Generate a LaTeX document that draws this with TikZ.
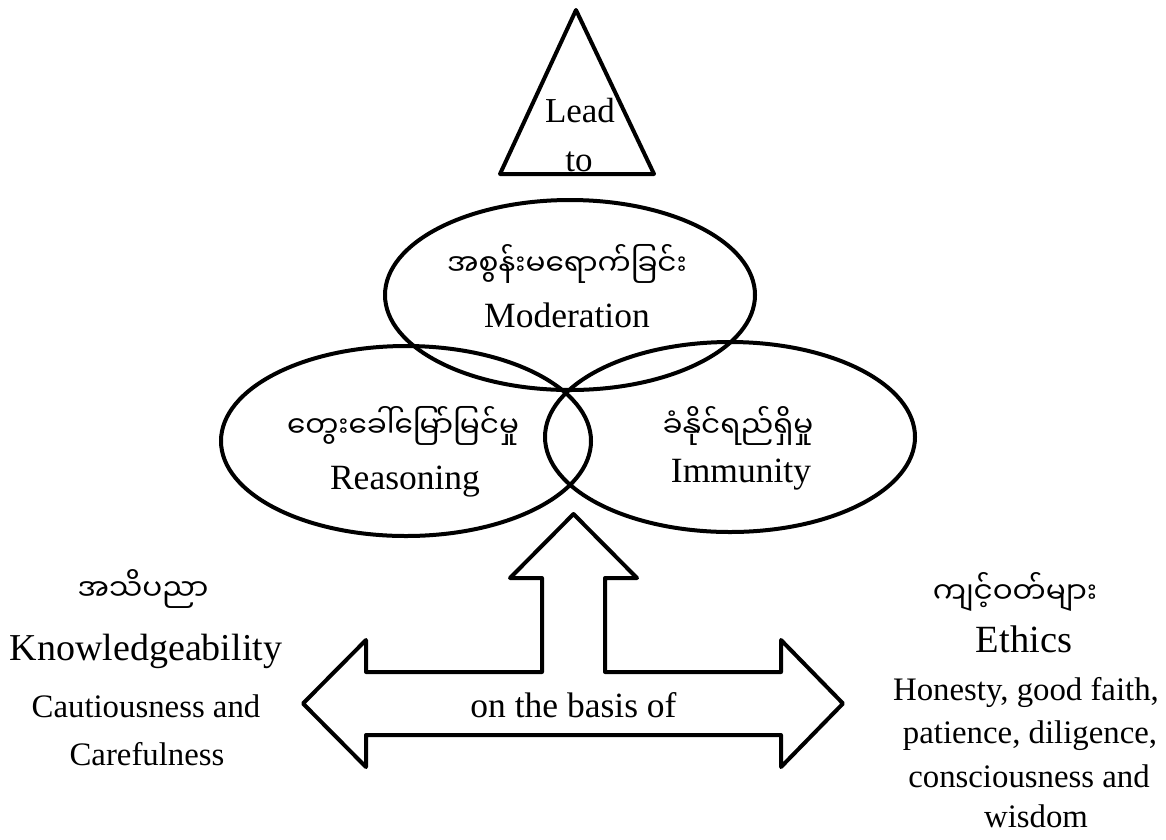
\documentclass[tikz,border=0pt]{standalone}
\usepackage{fontspec}
\setmainfont{Liberation Serif}
\newfontfamily\mya[Script=Myanmar]{Noto Sans Myanmar UI}
\usetikzlibrary{shapes.geometric}
\begin{document}
\begin{tikzpicture}[x=1pt,y=-1pt,line width=4pt,line join=round,
  txt/.style={anchor=base,inner sep=0pt},
  bur/.style={txt,font=\mya\fontsize{29.5}{36}\selectfont},
  big/.style={txt,font=\fontsize{35.5}{40}\selectfont},
  small/.style={txt,font=\fontsize{32.8}{38}\selectfont},
  oval/.style={ellipse,draw,minimum width=370pt,minimum height=190pt,inner sep=0pt}]
\useasboundingbox (0,0) rectangle (1166,839);

% triangle
\coordinate (tA) at (576,10);
\coordinate (tB) at (654,174);
\coordinate (tC) at (500,174);
\draw (tA) -- (tB) -- (tC) -- cycle;
\node[txt,font=\fontsize{35}{40}\selectfont] (lead1) at (580,122) {Lead};
\node[txt,font=\fontsize{35}{40}\selectfont] (lead2) at (579,171) {to};

% ellipses
\node[oval] (mod) at (570,295) {};
\node[oval] (rea) at (406,441) {};
\node[oval] (imm) at (730,437) {};

\node[bur] (modb) at (567,275) {အစွန်းမရောက်ခြင်း};
\node[big] (mode) at (567,327) {Moderation};
\node[bur] (reab) at (403,437) {တွေးခေါ်မြော်မြင်မှု};
\node[big] (reae) at (405,489) {Reasoning};
\node[bur] (immb) at (738,437) {ခံနိုင်ရည်ရှိမှု};
\node[big] (imme) at (741,482) {Immunity};

% big arrow
\draw (573.5,514) -- (637,578) -- (605,578) -- (605,672) -- (781,672) -- (781,640)
  -- (843,703.5) -- (781,767) -- (781,735) -- (366,735) -- (366,767) -- (303,703.5)
  -- (366,640) -- (366,672) -- (542,672) -- (542,578) -- (510,578) -- cycle;
\node[big] (basis) at (573.5,717) {on the basis of};

% left block
\node[bur] (lb) at (143,600) {အသိပညာ};
\node[txt,font=\fontsize{38}{42}\selectfont] (l1) at (146,660) {Knowledgeability};
\node[small] (l2) at (146,717) {Cautiousness and};
\node[small] (l3) at (147,765) {Carefulness};

% right block
\node[bur] (rb) at (1015,603) {ကျင့်ဝတ်များ};
\node[txt,font=\fontsize{38.5}{42}\selectfont] (r1) at (1024,652) {Ethics};
\node[small] (r2) at (1026,700) {Honesty, good faith,};
\node[small] (r3) at (1030,743) {patience, diligence,};
\node[small] (r4) at (1029,787) {consciousness and};
\node[small] (r5) at (1036,827) {wisdom};
\end{tikzpicture}
\end{document}
